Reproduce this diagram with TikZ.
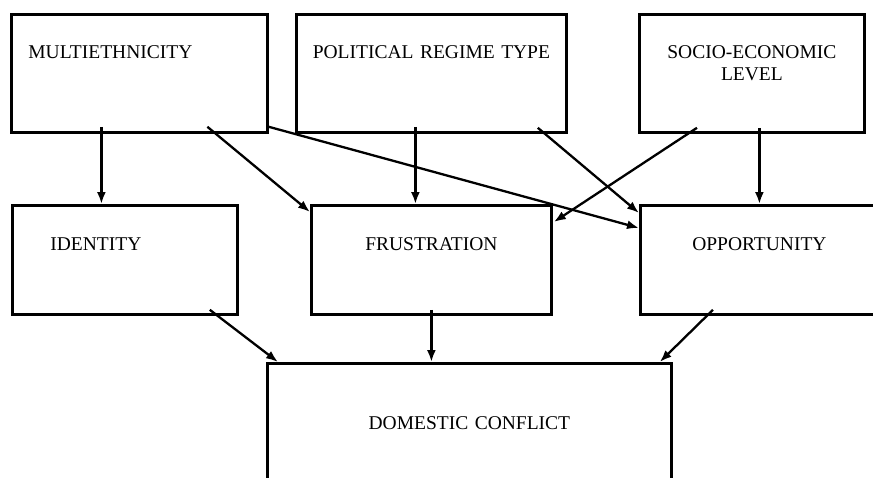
\documentclass[tikz,border=0pt]{standalone}
\usepackage{fontspec}
\setmainfont{Liberation Serif}
\usetikzlibrary{arrows.meta, positioning}
\tikzset{
  var_box/.style={rectangle, draw=black, line width=2.8pt, inner xsep=0pt, inner ysep=0pt, anchor=north west, align=center, font=\fontsize{19.5}{22}\selectfont, text height=44pt, text depth=74pt},
  mid_box/.style={var_box, text height=45pt, text depth=64pt},
  out_box/.style={var_box, text height=66pt, text depth=84pt},
  arrow/.style={-{Latex[length=12pt,width=9pt]}, line width=2.3pt, black}
}

\begin{document}
\begin{tikzpicture}[x=1pt, y=-1pt]
  \clip (0,0) rectangle (873,477);

  % Causes
  \node (multi) [var_box, align=left, inner xsep=17pt, text width=222pt] at (10,13) {MULTIETHNICITY};
  \node (regime) [var_box, text width=270pt] at (295,13) {POLITICAL REGIME TYPE};
  \node (socio) [var_box, text width=225pt] at (638,13) {SOCIO-ECONOMIC\\LEVEL};

  % Mechanisms
  \node (ident) [mid_box, align=left, inner xsep=38pt, text width=149pt] at (11,204) {IDENTITY};
  \node (frust) [mid_box, text width=240pt] at (310,204) {FRUSTRATION};
  \node (oppor) [mid_box, text width=238pt] at (639,204) {OPPORTUNITY};

  % Outcome
  \node (conflict) [out_box, text width=404pt] at (266,362) {DOMESTIC CONFLICT};

  % Connections
  \draw [arrow] ([xshift=-38pt, yshift=7pt]multi.south) -- ([xshift=-23.5pt]ident.north);
  \draw [arrow] ([xshift=68pt, yshift=7pt]multi.south) -- ([yshift=-8pt]frust.north west);
  \draw [arrow] ([yshift=7pt]multi.south east) -- ([yshift=-24pt]oppor.north west);
  \draw [arrow] ([xshift=-16pt, yshift=7pt]regime.south) -- ([xshift=-16pt]frust.north);
  \draw [arrow] ([xshift=-30pt, yshift=6pt]regime.south east) -- ([yshift=-9pt]oppor.north west);
  \draw [arrow] ([xshift=59pt, yshift=6pt]socio.south west) -- ([xshift=1pt, yshift=-18pt]frust.north east);
  \draw [arrow] ([xshift=7.5pt, yshift=6pt]socio.south) -- (oppor.north);
  \draw [arrow] ([xshift=-29pt, yshift=6pt]ident.south east) -- ([xshift=12pt]conflict.north west);
  \draw [arrow] ([yshift=6pt]frust.south) -- ([xshift=-38pt]conflict.north);
  \draw [arrow] ([xshift=74pt, yshift=6pt]oppor.south west) -- ([xshift=-13pt]conflict.north east);
\end{tikzpicture}
\end{document}
